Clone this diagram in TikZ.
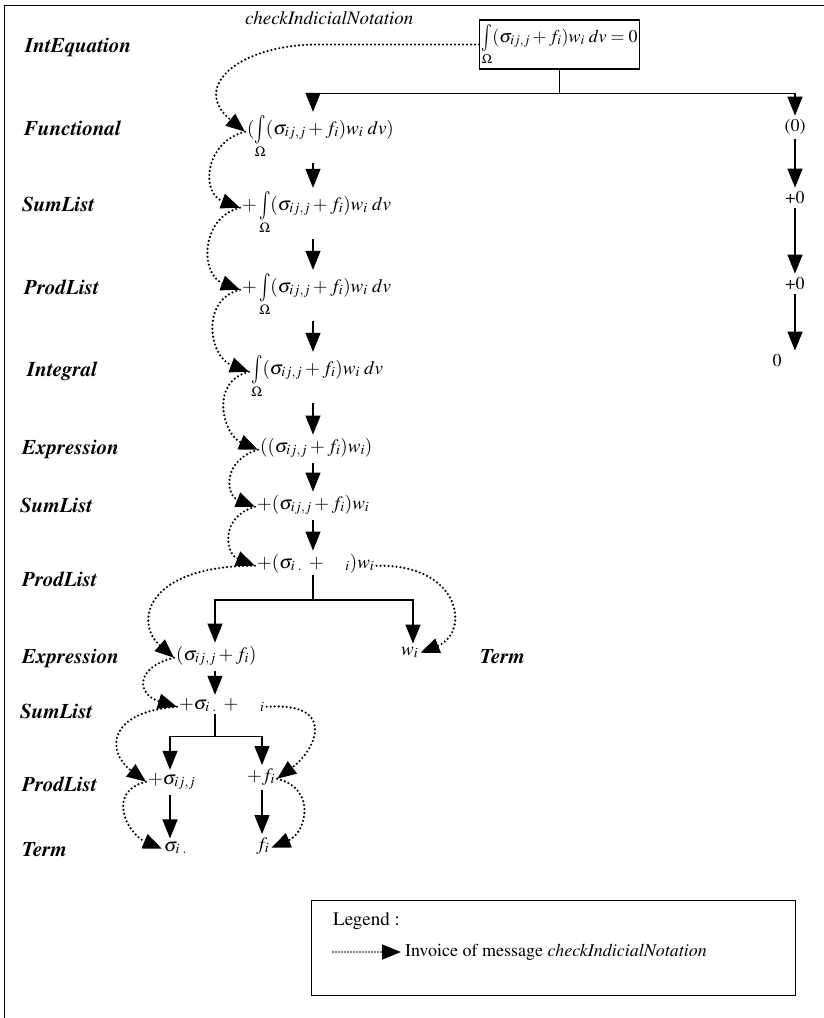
\documentclass[tikz,border=0pt]{standalone}
\usepackage[T1]{fontenc}
\usepackage{mathptmx}
\usetikzlibrary{arrows.meta}

\tikzset{
    lvl/.style={anchor=base west, inner sep=0pt, font=\fontsize{21}{24}\selectfont\bfseries\itshape},
    expr/.style={anchor=base west, inner sep=2pt, font=\fontsize{19}{22}\selectfont},
    zero/.style={anchor=base, inner sep=2pt, font=\fontsize{18}{22}\selectfont},
    tree/.style={line width=1.3pt},
    arr/.style={line width=1.3pt, -{Triangle[length=19pt,width=15pt]}, shorten <=3pt, shorten >=1pt},
    msg/.style={line width=2.4pt, line cap=round, dash pattern=on 0pt off 4pt, -{Triangle[length=19pt,width=15pt]}}
}
\newcommand{\intO}{\mathop{\vcenter{\hbox{\scalebox{1}[1.5]{$\int$}}}}\limits_{\Omega}}

\begin{document}
\begin{tikzpicture}[x=1pt,y=-1pt]
                {
    \useasboundingbox (0,0) rectangle (824,1018);
    \draw[line width=1pt] (4,1018) -- (4,5) -- (824,5);

    \coordinate (colA) at (313,0);
    \coordinate (colB) at (795,0);
    \coordinate (colC) at (215,0);
    \coordinate (colD) at (413,0);
    \coordinate (colE) at (170,0);
    \coordinate (colF) at (262,0);

    \node[lvl] (lIntEq) at (25,52) {IntEquation};
    \node[lvl] (lFun) at (24,135) {Functional};
    \node[lvl] (lSumA) at (22,211) {SumList};
    \node[lvl] (lProdA) at (24,294) {ProdList};
    \node[lvl] (lIntg) at (27,376) {Integral};
    \node[lvl] (lExprA) at (22,454) {Expression};
    \node[lvl] (lSumB) at (20,512) {SumList};
    \node[lvl] (lProdB) at (22,586) {ProdList};
    \node[lvl] (lExprB) at (22,663) {Expression};
    \node[lvl] (lSumC) at (20,718) {SumList};
    \node[lvl] (lProdC) at (22,791) {ProdList};
    \node[lvl] (lTermA) at (22,856) {Term};
    \node[lvl] (lTermB) at (480,663) {Term};

    \node[expr, font=\fontsize{19}{22}\selectfont\itshape, inner sep=0pt] (msgname) at (245,24) {checkIndicialNotation};
    \node[expr, draw, line width=1.3pt, inner xsep=2pt, inner ysep=4pt, font=\fontsize{18}{22}\selectfont] (top) at (479,42) {$\intO(\sigma_{ij,j}+f_i)w_i\;dv=0$};

    \node[expr] (fun) at (245,134) {$(\intO(\sigma_{ij,j}+f_i)w_i\;dv)$};
    \node[expr] (sumA) at (240,210) {$+\intO(\sigma_{ij,j}+f_i)w_i\;dv$};
    \node[expr] (prodA) at (240,292) {$+\intO(\sigma_{ij,j}+f_i)w_i\;dv$};
    \node[expr] (intg) at (249,374) {$\intO(\sigma_{ij,j}+f_i)w_i\;dv$};
    \node[expr] (exprA) at (258,452) {$((\sigma_{ij,j}+f_i)w_i)$};
    \node[expr] (sumB) at (255,509) {$+(\sigma_{ij,j}+f_i)w_i$};
    \node[expr] (prodB) at (255,568) {$+(\sigma_{i\;.}\;+\quad{}_i)w_i$};
    \node[expr] (exprB) at (174,660) {$(\sigma_{ij,j}+f_i)$};
    \node[expr] (wterm) at (399,655) {$w_i$};
    \node[expr] (sumC) at (177,709) {$+\sigma_{i\;.}\;+\quad{}_i$};
    \node[expr] (prodC) at (146,784) {$+\sigma_{ij,j}$};
    \node[expr] (prodD) at (245,781) {$+f_i$};
    \node[expr] (termS) at (162,851) {$\sigma_{i\;.}$};
    \node[expr] (termF) at (254,850) {$f_i$};

    \node[zero] (zA) at (795,131) {(0)};
    \node[zero] (zB) at (795,203) {+0};
    \node[zero] (zC) at (795,289) {+0};
    \node[zero] (zD) at (777,366) {0};

    \draw[tree] (top.south) -- ++(0,24) coordinate (jA);
    \draw[arr, shorten <=0pt] (jA) -| (fun.north -| colA);
    \draw[arr, shorten <=0pt] (jA) -| (zA.north -| colB);
    \draw[arr] (fun.south -| colA) -- (sumA.north -| colA);
    \draw[arr] (sumA.south -| colA) -- (prodA.north -| colA);
    \draw[arr] (prodA.south -| colA) -- (intg.north -| colA);
    \draw[arr] (intg.south -| colA) -- (exprA.north -| colA);
    \draw[arr] (exprA.south -| colA) -- (sumB.north -| colA);
    \draw[arr] (sumB.south -| colA) -- (prodB.north -| colA);
    \draw[tree] (prodB.south -| colA) -- ++(0,25) coordinate (jB);
    \draw[arr, shorten <=0pt] (jB) -| (exprB.north -| colC);
    \draw[arr, shorten <=0pt] (jB) -| (wterm.north -| colD);
    \draw[arr] (exprB.south -| colC) -- (sumC.north -| colC);
    \draw[tree] (sumC.south -| colC) -- ++(0,22) coordinate (jC);
    \draw[arr, shorten <=0pt] (jC) -| (prodC.north -| colE);
    \draw[arr, shorten <=0pt] (jC) -| (prodD.north -| colF);
    \draw[arr] (prodC.south -| colE) -- (termS.north -| colE);
    \draw[arr] (prodD.south -| colF) -- (termF.north -| colF);
    \draw[arr] (zA.south -| colB) -- (zB.north -| colB);
    \draw[arr] (zB.south -| colB) -- (zC.north -| colB);
    \draw[arr] (zC.south -| colB) -- (zD.north -| colB);

    \draw[msg] (top.west) -- ++(-160,0) .. controls +(-80,0) and +(-55,-45) .. (fun.mid west);
    \draw[msg] (fun.mid west) .. controls +(-40,10) and +(-40,-15) .. (sumA.mid west);
    \draw[msg] (sumA.mid west) .. controls +(-40,10) and +(-40,-15) .. (prodA.mid west);
    \draw[msg] (prodA.mid west) .. controls +(-40,10) and +(-40,-15) .. (intg.mid west);
    \draw[msg] (intg.mid west) .. controls +(-40,10) and +(-35,-15) .. (exprA.mid west);
    \draw[msg] (exprA.mid west) .. controls +(-35,10) and +(-30,-12) .. (sumB.mid west);
    \draw[msg] (sumB.mid west) .. controls +(-35,10) and +(-30,-12) .. (prodB.mid west);
    \draw[msg] (prodB.mid west) .. controls +(-110,0) and +(-40,-35) .. (exprB.mid west);
    \draw[msg] (prodB.mid east) .. controls +(85,-2) and +(50,-20) .. (wterm.mid east);
    \draw[msg] (exprB.mid west) .. controls +(-40,10) and +(-40,-12) .. (sumC.mid west);
    \draw[msg] (sumC.mid west) .. controls +(-70,5) and +(-40,-30) .. (prodC.mid west);
    \draw[msg] (sumC.mid east) .. controls +(70,-5) and +(40,-30) .. (prodD.mid east);
    \draw[msg] (prodC.mid west) .. controls +(-40,10) and +(-35,-15) .. (termS.mid west);
    \draw[msg] (prodD.mid east) .. controls +(40,10) and +(35,-15) .. (termF.mid east);

    \node[draw, line width=1.3pt, anchor=north west, minimum width=484pt, minimum height=95pt] (legend) at (311,900) {};
    \node[expr, inner sep=0pt] (legtitle) at (333,925) {Legend :};
    \coordinate (legA) at (333,952);
    \node[expr, anchor=west, inner sep=0pt, font=\fontsize{18}{22}\selectfont] (legtext) at (405,952) {Invoice of message \textit{checkIndicialNotation}};
    \draw[msg, line width=1.8pt, dash pattern=on 0pt off 3pt, shorten >=4pt] (legA) -- (legtext.west);
}
\end{tikzpicture}
\end{document}
